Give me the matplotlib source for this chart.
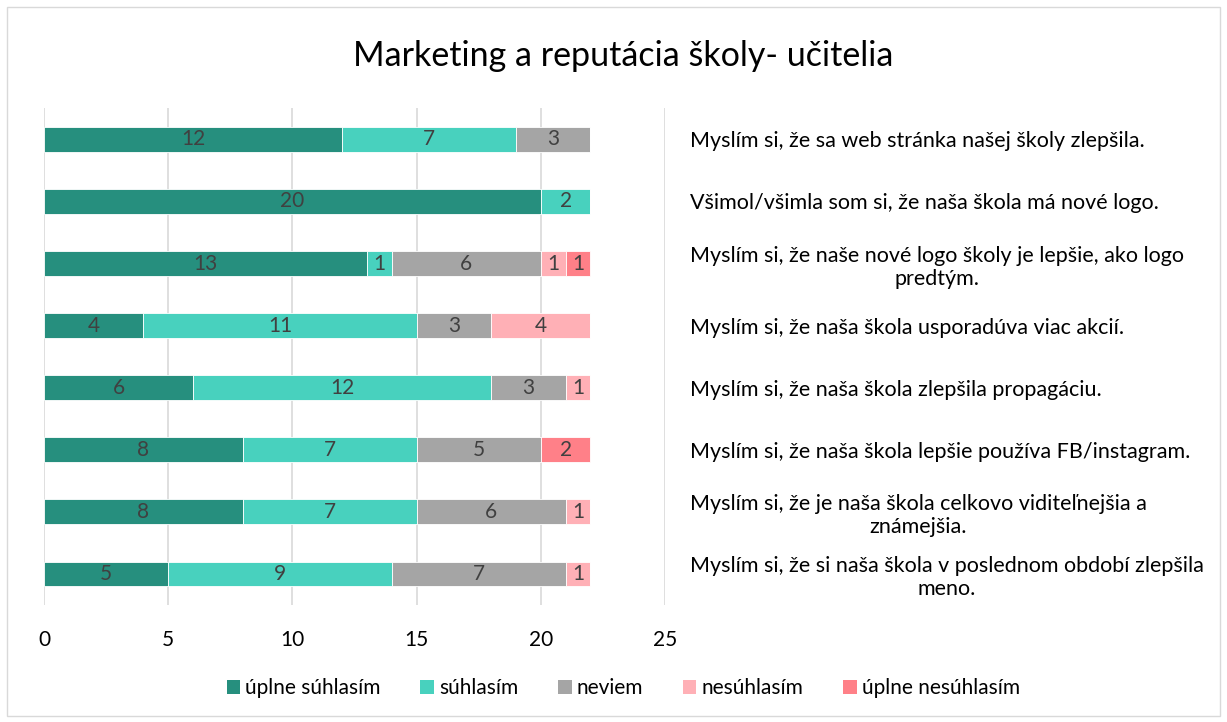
import matplotlib.pyplot as plt
from matplotlib.patches import Rectangle, Patch

plt.rcParams["font.family"] = ["Lato", "DejaVu Sans"]

title = "Marketing a reputácia školy- učitelia"
statements = [
    "Myslím si, že sa web stránka našej školy zlepšila.",
    "Všimol/všimla som si, že naša škola má nové logo.",
    "Myslím si, že naše nové logo školy je lepšie, ako logo\npredtým.",
    "Myslím si, že naša škola usporadúva viac akcií.",
    "Myslím si, že naša škola zlepšila propagáciu.",
    "Myslím si, že naša škola lepšie používa FB/instagram.",
    "Myslím si, že je naša škola celkovo viditeľnejšia a\nznámejšia.",
    "Myslím si, že si naša škola v poslednom období zlepšila\nmeno.",
]
series_names = ["úplne súhlasím", "súhlasím", "neviem", "nesúhlasím", "úplne nesúhlasím"]
uplne_suhlasim = [12, 20, 13, 4, 6, 8, 8, 5]
suhlasim = [7, 2, 1, 11, 12, 7, 7, 9]
neviem = [3, 0, 6, 3, 3, 5, 6, 7]
nesuhlasim = [0, 0, 1, 4, 1, 0, 1, 1]
uplne_nesuhlasim = [0, 0, 1, 0, 0, 2, 0, 0]
x_ticks = [0, 5, 10, 15, 20, 25]

colors = ["#268F7E", "#48D1BE", "#A5A5A5", "#FFB0B6", "#FF8088"]
series = [uplne_suhlasim, suhlasim, neviem, nesuhlasim, uplne_nesuhlasim]

fig = plt.figure(figsize=(12.27, 7.22), dpi=100)
ax = fig.add_axes([0.0359, 0.162, 0.506, 0.688])

ypos = list(range(len(statements)))
left = [0] * len(statements)
for name, vals, col in zip(series_names, series, colors):
    bars = ax.barh(ypos, vals, left=left, height=0.4, color=col,
                   edgecolor="white", linewidth=0.6, label=name, zorder=3)
    for b, v in zip(bars, vals):
        if v > 0:
            ax.text(b.get_x() + b.get_width() / 2, b.get_y() + b.get_height() / 2,
                    str(v), ha="center", va="center", fontsize=15,
                    color="#404040", zorder=4)
    left = [l + v for l, v in zip(left, vals)]

ax.set_xlim(0, 25)
ax.set_ylim(len(statements) - 0.5, -0.5)
ax.set_xticks(x_ticks)
ax.set_xticklabels([str(t) for t in x_ticks], fontsize=15, color="#000000")
ax.tick_params(axis="x", length=0, pad=18)
ax.grid(axis="x", color="#D9D9D9", linewidth=1.2, zorder=0)
for s in ax.spines.values():
    s.set_visible(False)

ax.yaxis.tick_right()
ax.set_yticks(ypos)
ax.set_yticklabels(statements, fontsize=15.5, color="#000000",
                   ha="left", multialignment="center")
ax.tick_params(axis="y", length=0, pad=18)

fig.text(0.508, 0.922, title, ha="center", va="center", fontsize=24.5, color="#000000")

handles = [Patch(facecolor=c, edgecolor="none", label=n) for c, n in zip(colors, series_names)]
fig.legend(handles=handles, loc="center", bbox_to_anchor=(0.508, 0.047), ncol=5,
           frameon=False, fontsize=15, handlelength=0.65, handleheight=0.65,
           handletextpad=0.25, columnspacing=1.9)

fig.patches.append(Rectangle((0.006, 0.008), 0.988, 0.982, transform=fig.transFigure,
                             fill=False, edgecolor="#D9D9D9", linewidth=1))

fig.savefig("out.png", dpi=100)
